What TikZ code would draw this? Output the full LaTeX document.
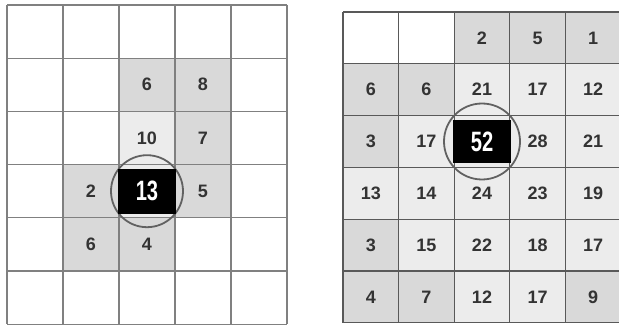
\documentclass[tikz,border=0pt]{standalone}
\usepackage{fontspec}
\setmainfont{Liberation Sans}
\definecolor{cellA}{HTML}{D9D9D9}
\definecolor{cellB}{HTML}{ECECEC}
\definecolor{numc}{HTML}{333333}
\begin{document}
\begin{tikzpicture}[x=1pt,y=-1pt,
  num/.style={font=\bfseries\fontsize{18}{18}\selectfont, text=numc, inner sep=0pt},
  hot/.style={fill=black, minimum width=58pt, minimum height=45pt, inner sep=0pt},
  hottext/.style={text=white, font=\bfseries\fontsize{28}{28}\selectfont, xscale=0.72, inner sep=0pt},
  ring/.style={draw=black!62, line width=1.8pt},
  gridL/.style={draw=black!50, line width=1.3pt},
  gridR/.style={draw=black!65, line width=1.3pt}]
\useasboundingbox (0,0) rectangle (619,326);
\fill[white] (0,0) rectangle (619,326);
% ---------- left grid: x0=7, w=56 ; y0=5, h=53.2
\foreach \c/\r/\col in {3/2/cellA,4/2/cellA,3/3/cellB,4/3/cellA,2/4/cellA,3/4/cellB,4/4/cellA,2/5/cellA,3/5/cellA}
  \fill[\col] ({7+56*(\c-1)},{5+53.2*(\r-1)}) rectangle ++(56,53.2);
\foreach \i in {0,...,5} \draw[gridL] ({7+56*\i},5) -- ({7+56*\i},324.2);
\foreach \j in {0,...,6} \draw[gridL] (7,{5+53.2*\j}) -- (287,{5+53.2*\j});
\foreach \c/\r/\t in {3/2/6,4/2/8,3/3/10,4/3/7,2/4/2,4/4/5,2/5/6,3/5/4}
  \node[num] (L-\c-\r) at ({7+56*(\c-0.5)},{5+53.2*(\r-0.5)}) {\t};
\coordinate (Lc) at ({7+56*2.5},{5+53.2*3.5});
\draw[ring] (Lc) circle[radius=36];
\node[hot] (Lhot) at (Lc) {};
\node[hottext] (Lhott) at (Lc) {13};
% ---------- right grid: x0=343, w=55.6 ; y0=12, h=51.8
\foreach \c/\r/\col in {
  3/1/cellA,4/1/cellA,5/1/cellA,
  1/2/cellA,2/2/cellA,3/2/cellB,4/2/cellB,5/2/cellB,
  1/3/cellA,2/3/cellB,3/3/cellB,4/3/cellB,5/3/cellB,
  1/4/cellB,2/4/cellB,3/4/cellB,4/4/cellB,5/4/cellB,
  1/5/cellA,2/5/cellB,3/5/cellB,4/5/cellB,5/5/cellB,
  1/6/cellA,2/6/cellA,3/6/cellB,4/6/cellB,5/6/cellA}
  \fill[\col] ({343+55.6*(\c-1)},{12+51.8*(\r-1)}) rectangle ++(55.6,51.8);
\foreach \i in {0,...,5} \draw[gridR] ({343+55.6*\i},12) -- ({343+55.6*\i},322.8);
\foreach \j in {0,...,6} \draw[gridR] (343,{12+51.8*\j}) -- (621,{12+51.8*\j});
\foreach \c/\r/\t in {
  3/1/2,4/1/5,5/1/1,
  1/2/6,2/2/6,3/2/21,4/2/17,5/2/12,
  1/3/3,2/3/17,4/3/28,5/3/21,
  1/4/13,2/4/14,3/4/24,4/4/23,5/4/19,
  1/5/3,2/5/15,3/5/22,4/5/18,5/5/17,
  1/6/4,2/6/7,3/6/12,4/6/17,5/6/9}
  \node[num] (R-\c-\r) at ({343+55.6*(\c-0.5)},{12+51.8*(\r-0.5)}) {\t};
\coordinate (Rc) at ({343+55.6*2.5},{12+51.8*2.5});
\draw[ring] (Rc) circle[radius=38];
\node[hot, minimum height=43pt] (Rhot) at (Rc) {};
\node[hottext] (Rhott) at (Rc) {52};
\end{tikzpicture}
\end{document}
